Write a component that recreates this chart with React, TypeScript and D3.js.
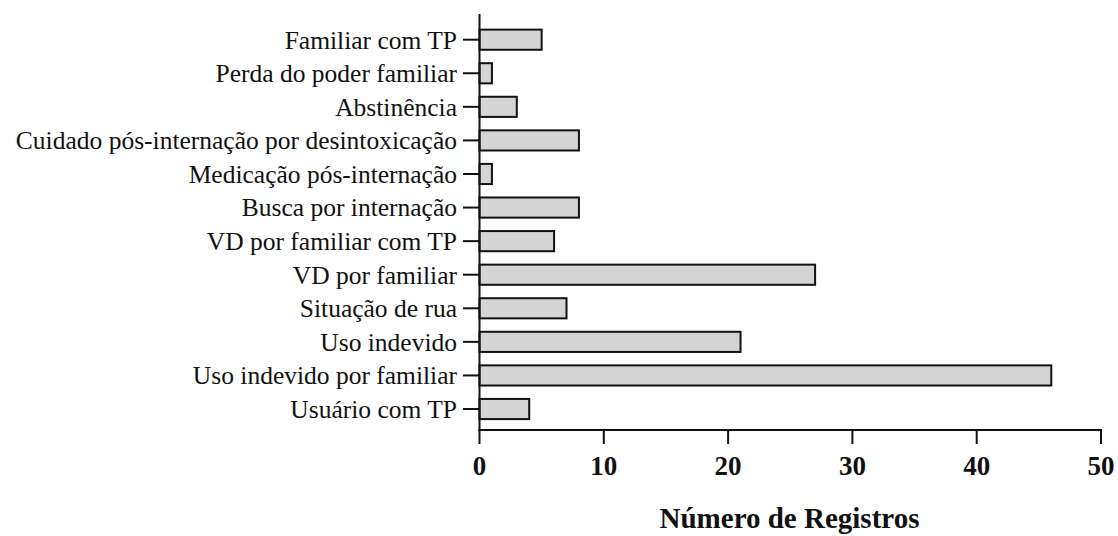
import React from "react";
import * as d3 from "d3";

const categories = [
  "Familiar com TP",
  "Perda do poder familiar",
  "Abstinência",
  "Cuidado pós-internação por desintoxicação",
  "Medicação pós-internação",
  "Busca por internação",
  "VD por familiar com TP",
  "VD por familiar",
  "Situação de rua",
  "Uso indevido",
  "Uso indevido por familiar",
  "Usuário com TP",
];
const values = [5, 1, 3, 8, 1, 8, 6, 27, 7, 21, 46, 4];
const xTicks = [0, 10, 20, 30, 40, 50];
const xTitle = "Número de Registros";

export default function App() {
  const W = 1118, H = 536;
  const x = d3.scaleLinear().domain([0, 50]).range([479.5, 1101]);
  const y = d3.scaleBand<string>().domain(categories).range([22.9, 425.8]).paddingInner(0.4).paddingOuter(0.2);
  const font = "'Liberation Serif', 'Times New Roman', serif";
  return (
    <svg width={W} height={H} style={{ position: "absolute", left: 0, top: 0, background: "#fff" }}>
      {categories.map((c, i) => (
        <g key={c}>
          <rect x={x(0)} y={y(c)!} width={x(values[i]) - x(0)} height={y.bandwidth()} fill="#d4d4d4" stroke="#111" strokeWidth={2} />
          <line x1={463} x2={x(0)} y1={y(c)! + y.bandwidth() / 2} y2={y(c)! + y.bandwidth() / 2} stroke="#111" strokeWidth={2} />
          <text x={457} y={y(c)! + y.bandwidth() / 2} dy="0.35em" textAnchor="end" fontFamily={font} fontSize={25.5} fill="#111">{c}</text>
        </g>
      ))}
      <line x1={x(0)} x2={x(0)} y1={14} y2={431} stroke="#111" strokeWidth={2} />
      <line x1={x(0) - 1} x2={x(50) + 1} y1={430} y2={430} stroke="#111" strokeWidth={2} />
      {xTicks.map((t) => (
        <g key={t}>
          <line x1={x(t)} x2={x(t)} y1={430} y2={444} stroke="#111" strokeWidth={2} />
          <text x={x(t)} y={475} textAnchor="middle" fontFamily={font} fontWeight="bold" fontSize={27} fill="#111">{t}</text>
        </g>
      ))}
      <text x={789.5} y={528} textAnchor="middle" fontFamily={font} fontWeight="bold" fontSize={29} fill="#111">{xTitle}</text>
    </svg>
  );
}
